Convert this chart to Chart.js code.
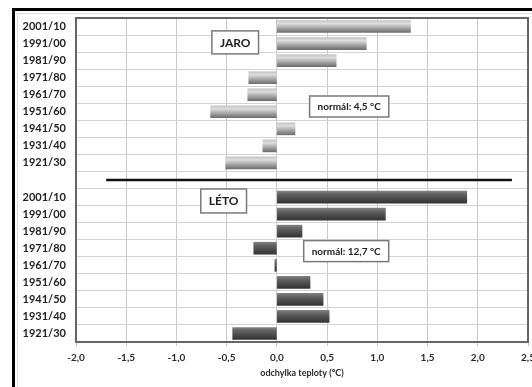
<!DOCTYPE html>
<html>
<head>
<meta charset="utf-8">
<script src="https://cdn.jsdelivr.net/npm/chart.js"></script>
<style>
  html, body { margin: 0; padding: 0; background: #fff; }
  canvas { display: block; }
</style>
</head>
<body>
<canvas id="odchylky" width="532" height="387"></canvas>
<script>
// desetiletí (shora dolů) a odchylky od normálu ve °C
const decades = ['2001/10', '1991/00', '1981/90', '1971/80', '1961/70', '1951/60', '1941/50', '1931/40', '1921/30'];
const jaro = [1.33, 0.89, 0.59, -0.28, -0.29, -0.66, 0.18, -0.14, -0.51];
const leto = [1.89, 1.08, 0.25, -0.23, -0.02, 0.33, 0.46, 0.52, -0.44];
const xTicks = [-2.0, -1.5, -1.0, -0.5, 0.0, 0.5, 1.0, 1.5, 2.0, 2.5];

// jaro nahoře, prázdný řádek, léto dole
const labels = [...decades, '', ...decades];
const gap = decades.length;
const jaroData = [...jaro, ...Array(decades.length + 1).fill(null)];
const letoData = [...Array(decades.length + 1).fill(null), ...leto];

const BAR = 12;
const FONT = 'Lato';

// popisky v grafu
const boxes = [
  { text: 'JARO', x: -0.415, row: 0.93, size: 12, h: 23 },
  { text: 'normál: 4,5 °C', x: 0.72, row: 4.69, size: 10, h: 21 },
  { text: 'LÉTO', x: -0.53, row: 10.23, size: 12, h: 24 },
  { text: 'normál: 12,7 °C', x: 0.69, row: 13.17, size: 10, h: 21 }
];

function barFill(stops, fallback) {
  return (c) => {
    const ys = c.chart.scales.y;
    if (!ys || c.type !== 'data') return fallback;
    const yc = ys.getPixelForValue(c.dataIndex);
    if (!isFinite(yc)) return fallback;
    const g = c.chart.ctx.createLinearGradient(0, yc - BAR / 2, 0, yc + BAR / 2);
    stops.forEach(([o, col]) => g.addColorStop(o, col));
    return g;
  };
}

const decor = {
  id: 'decor',
  beforeDraw(chart) {
    const ctx = chart.ctx;
    ctx.save();
    ctx.fillStyle = '#fff';
    ctx.fillRect(0, 0, chart.width, chart.height);
    ctx.restore();
  },
  afterDatasetsDraw(chart) {
    const { ctx, chartArea: a, scales: { x, y } } = chart;
    ctx.save();
    // rámeček plochy grafu
    ctx.strokeStyle = '#666';
    ctx.lineWidth = 2;
    ctx.strokeRect(a.left, a.top, a.right - a.left, a.bottom - a.top);

    // dělicí čára mezi jarem a létem
    const ySep = y.getPixelForValue(gap);
    ctx.strokeStyle = '#111';
    ctx.lineWidth = 2.5;
    ctx.beginPath();
    ctx.moveTo(x.getPixelForValue(-1.70), ySep);
    ctx.lineTo(x.getPixelForValue(2.34), ySep);
    ctx.stroke();

    // textová pole
    boxes.forEach(b => {
      ctx.font = `bold ${b.size}px ${FONT}`;
      const w = ctx.measureText(b.text).width + 16;
      const cx = x.getPixelForValue(b.x);
      const cy = y.getPixelForValue(b.row);
      ctx.fillStyle = '#fff';
      ctx.fillRect(cx - w / 2, cy - b.h / 2, w, b.h);
      ctx.strokeStyle = '#7a7a7a';
      ctx.lineWidth = 1.5;
      ctx.strokeRect(cx - w / 2, cy - b.h / 2, w, b.h);
      ctx.fillStyle = '#222';
      ctx.textAlign = 'center';
      ctx.textBaseline = 'middle';
      ctx.fillText(b.text, cx, cy + 0.5);
    });
    ctx.restore();
  },
  afterDraw(chart) {
    const ctx = chart.ctx;
    ctx.save();
    ctx.strokeStyle = '#ddd';
    ctx.lineWidth = 1;
    ctx.strokeRect(17.5, 13.5, 1000, 1000);
    ctx.strokeStyle = '#000';
    ctx.lineWidth = 3;
    ctx.strokeRect(13.5, 9.5, 1000, 1000);
    ctx.restore();
  }
};

new Chart(document.getElementById('odchylky'), {
  type: 'bar',
  data: {
    labels: labels,
    datasets: [
      {
        label: 'jaro',
        data: jaroData,
        grouped: false,
        barThickness: BAR,
        backgroundColor: barFill([[0, '#c4c4c4'], [0.25, '#dedede'], [0.6, '#a9a9a9'], [1, '#6e6e6e']], '#aaa')
      },
      {
        label: 'léto',
        data: letoData,
        grouped: false,
        barThickness: BAR,
        backgroundColor: barFill([[0, '#808080'], [0.25, '#646464'], [0.6, '#4c4c4c'], [1, '#333']], '#555')
      }
    ]
  },
  options: {
    indexAxis: 'y',
    responsive: false,
    animation: false,
    layout: { padding: { top: 18, right: 4, left: 0, bottom: 0 } },
    plugins: {
      legend: { display: false },
      tooltip: { enabled: false }
    },
    scales: {
      x: {
        min: -2,
        max: 2.5,
        afterBuildTicks: (s) => { s.ticks = xTicks.map(v => ({ value: v })); },
        afterFit: (s) => { s.height = 45; s.paddingLeft = 0; s.paddingRight = 0; },
        border: { display: false },
        grid: { color: '#c8c8c8', tickLength: 4 },
        ticks: {
          padding: 6,
          color: '#2a2a2a',
          font: { family: FONT, size: 10, weight: 'bold' },
          callback: (v) => Number(v).toFixed(1).replace('.', ',')
        },
        title: {
          display: true,
          text: 'odchylka teploty (°C)',
          color: '#2a2a2a',
          font: { family: FONT, size: 9, weight: 'bold' },
          padding: { top: 0, bottom: 9 }
        }
      },
      y: {
        afterFit: (s) => { s.width = 76; },
        border: { display: false },
        grid: { color: '#d4d4d4', drawTicks: false },
        ticks: {
          padding: 10,
          color: '#222',
          autoSkip: false,
          font: { family: FONT, size: 11, weight: 'bold' }
        }
      }
    }
  },
  plugins: [decor]
});
</script>
</body>
</html>
